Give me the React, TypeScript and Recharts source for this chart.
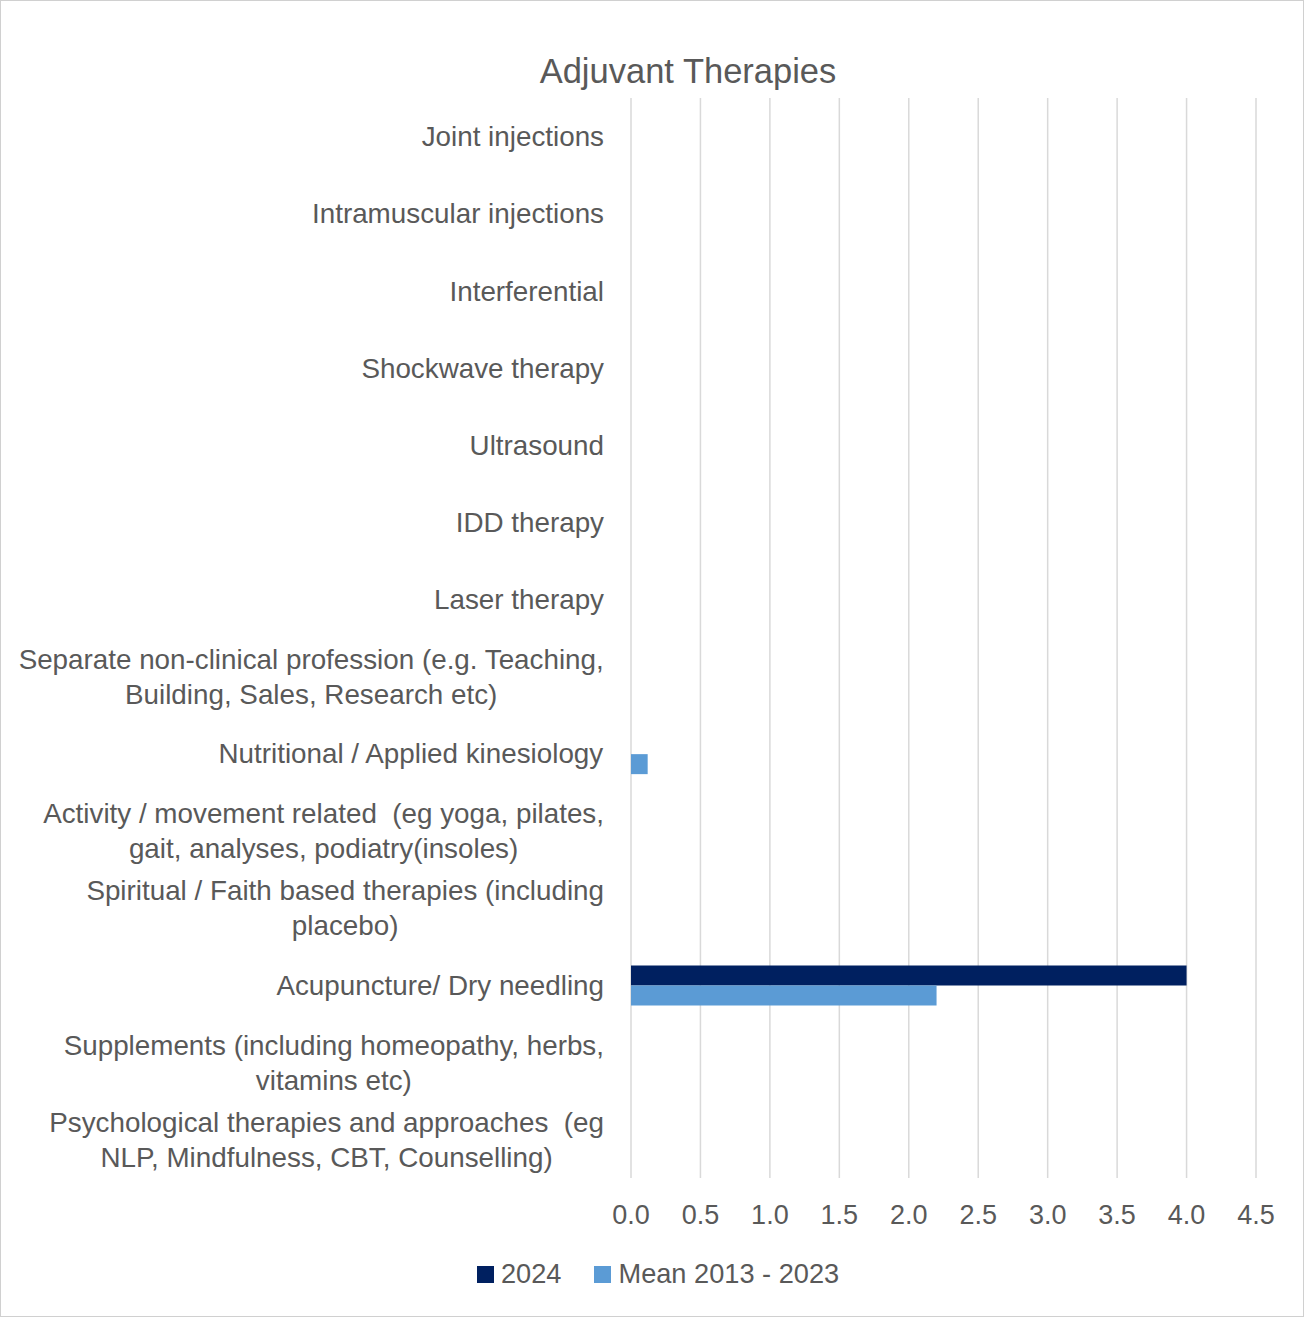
import React from "react";
import { BarChart, Bar, XAxis, YAxis, CartesianGrid, Legend } from "recharts";

const categories = [
  "Joint injections",
  "Intramuscular injections",
  "Interferential",
  "Shockwave therapy",
  "Ultrasound",
  "IDD therapy",
  "Laser therapy",
  "Separate non-clinical profession (e.g. Teaching,\nBuilding, Sales, Research etc)",
  "Nutritional / Applied kinesiology",
  "Activity / movement related  (eg yoga, pilates,\ngait, analyses, podiatry(insoles)",
  "Spiritual / Faith based therapies (including\nplacebo)",
  "Acupuncture/ Dry needling",
  "Supplements (including homeopathy, herbs,\nvitamins etc)",
  "Psychological therapies and approaches  (eg\nNLP, Mindfulness, CBT, Counselling)",
];
const values2024 = [0, 0, 0, 0, 0, 0, 0, 0, 0, 0, 0, 4.0, 0, 0];
const valuesMean = [0, 0, 0, 0, 0, 0, 0, 0, 0.12, 0, 0, 2.2, 0, 0];
const xTicks = [0, 0.5, 1, 1.5, 2, 2.5, 3, 3.5, 4, 4.5];

const data = categories.map((name, i) => ({
  name,
  y2024: values2024[i],
  mean: valuesMean[i],
}));

const FONT = '"Liberation Sans", Arial, sans-serif';
const TEXT = "#595959";
const DARK = "#002060";
const LIGHT = "#5B9BD5";
const LABEL_SIZE = 27.8;

let ctx: CanvasRenderingContext2D | null = null;
const measure = (s: string) => {
  if (!ctx) ctx = document.createElement("canvas").getContext("2d");
  if (!ctx) return s.length * LABEL_SIZE * 0.5;
  ctx.font = `${LABEL_SIZE}px ${FONT}`;
  return ctx.measureText(s).width;
};

const CategoryTick = ({ x, y, payload }: any) => {
  const lines = String(payload.value).split("\n");
  const maxW = Math.max(...lines.map(measure));
  const cx = x - 25 - maxW / 2;
  const lh = 35;
  return (
    <g>
      {lines.map((l, i) => (
        <text
          key={i}
          x={cx}
          y={y + (i - (lines.length - 1) / 2) * lh}
          dy="0.35em"
          textAnchor="middle"
          fill={TEXT}
          fontSize={LABEL_SIZE}
          fontFamily={FONT}
          style={{ whiteSpace: "pre" }}
        >
          {l}
        </text>
      ))}
    </g>
  );
};

const ValueTick = ({ x, y, payload }: any) => (
  <text x={x} y={y + 35} dy="0.35em" textAnchor="middle" fill={TEXT} fontSize={27} fontFamily={FONT}>
    {Number(payload.value).toFixed(1)}
  </text>
);

const LegendContent = ({ payload }: any) => (
  <div style={{ display: "flex", alignItems: "center", fontFamily: FONT, fontSize: 27.2, color: TEXT, lineHeight: "32px" }}>
    {(payload || []).map((p: any, i: number) => (
      <div key={p.value} style={{ display: "flex", alignItems: "center", marginLeft: i ? 33 : 0 }}>
        <span style={{ display: "inline-block", width: 17, height: 17, background: p.color, marginRight: 7 }} />
        <span>{p.value}</span>
      </div>
    ))}
  </div>
);

export default function App() {
  return (
    <div style={{ position: "absolute", left: 0, top: 0, width: 1304, height: 1317, background: "#fff" }}>
      <div
        style={{
          position: "absolute", left: 0, top: 54, width: 1376, textAlign: "center",
          fontFamily: FONT, fontSize: 34.5, lineHeight: "34px", color: TEXT,
        }}
      >
        Adjuvant Therapies
      </div>
      <BarChart
        width={1304}
        height={1317}
        data={data}
        layout="vertical"
        margin={{ top: 98, right: 48, bottom: 79, left: 0 }}
        barGap={0}
        barSize={20}
      >
        <CartesianGrid horizontal={false} stroke="#D9D9D9" strokeWidth={1.5} />
        <XAxis
          type="number"
          domain={[0, 4.5]}
          ticks={xTicks}
          interval={0}
          axisLine={false}
          tickLine={false}
          tickSize={0}
          height={60}
          tick={<ValueTick />}
        />
        <YAxis
          type="category"
          dataKey="name"
          width={631}
          axisLine={false}
          tickLine={false}
          tickSize={0}
          interval={0}
          tick={<CategoryTick />}
        />
        <Legend
          layout="horizontal"
          verticalAlign="middle"
          align="center"
          wrapperStyle={{ left: 477, top: 1258, width: 500 }}
          content={<LegendContent />}
        />
        <Bar dataKey="y2024" name="2024" fill={DARK} isAnimationActive={false} />
        <Bar dataKey="mean" name="Mean 2013 - 2023" fill={LIGHT} isAnimationActive={false} />
      </BarChart>
      <div style={{ position: "absolute", left: 0, top: 0, width: 1304, height: 1317, boxSizing: "border-box", border: "1.5px solid #D0D0D0", pointerEvents: "none" }} />
    </div>
  );
}
